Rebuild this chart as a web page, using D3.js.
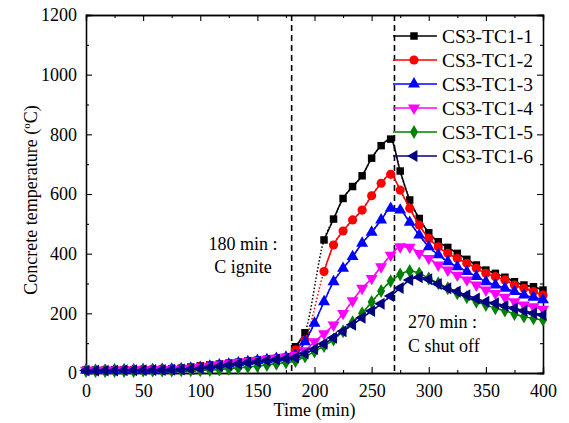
<!DOCTYPE html>
<html>
<head>
<meta charset="utf-8">
<script src="https://cdn.jsdelivr.net/npm/d3@7"></script>
<style>
  body { margin: 0; background: #fff; }
  svg text { font-family: "Liberation Serif", "DejaVu Serif", serif; fill: #000; }
</style>
</head>
<body>
<div id="chart-area"></div>
<script>
// sampling every 500 s
var times = [0, 8.33, 16.67, 25, 33.33, 41.67, 50, 58.33, 66.67, 75, 83.33,
    91.67, 100, 108.33, 116.67, 125, 133.33, 141.67, 150, 158.33, 166.67, 175,
    183.33, 191.67, 200, 208.33, 216.67, 225, 233.33, 241.67, 250, 258.33, 266.67,
    275, 283.33, 291.67, 300, 308.33, 316.67, 325, 333.33, 341.67, 350, 358.33,
    366.67, 375, 383.33, 391.67, 400];

var names = ["CS3-TC1-1", "CS3-TC1-2", "CS3-TC1-3", "CS3-TC1-4", "CS3-TC1-5", "CS3-TC1-6"];

var tc1 = [10,10,10,11,11,11,12,12,13,14,16, 20,24,27,30,33,36,40,43,46,49,53,
    88,135,null,446,516,585,625,661,720,762,784,677,580,518,470,440,421,401,381,362,345,334,321,306,295,289,278];
var tc2 = [10,9,10,10,11,11,11,12,13,14,15, 18,22,25,28,31,34,38,41,45,48,52,
    77,110,null,340,429,476,513,546,594,636,666,613,552,496,451,423,401,384,368,351,334,323,312,295,284,273,261];
var tc3 = [9,9,9,10,10,10,11,11,12,13,14, 16,19,23,27,30,34,38,42,45,49,53,
    60,105,167,239,306,351,390,435,472,513,552,546,505,462,423,396,373,356,340,323,306,295,284,273,261,254,245];
var tc4 = [9,9,9,10,10,10,11,11,12,12,13, 16,19,23,27,31,35,38,42,46,50,54,
    60,75,105,132,161,200,242,284,317,356,395,423,422,401,384,362,345,328,312,295,278,267,254,239,228,222,214];
var tc5 = [7,7,7,7,7,7,8,8,8,8,9, 9,9,10,12,14,17,20,23,27,31,35,
    40,55,72,90,112,140,170,200,238,275,308,330,342,334,317,301,284,267,254,239,228,217,209,198,189,183,178];
var tc6 = [8,8,8,8,9,9,9,10,10,11,12, 13,15,19,23,27,31,35,38,42,45,49,
    52,65,80,98,118,140,162,185,208,232,258,285,312,321,314,298,284,273,261,250,239,234,225,217,209,200,194];

var colors = ["#000000", "#ff0000", "#0000ff", "#ff00ff", "#008000", "#000080"];
var events = [180, 270];
var eventText = [["180 min :", "C ignite"], ["270 min :", "C shut off"]];

var width = 569, height = 423;
var margin = {top: 15, right: 26, bottom: 50, left: 86};
var w = width - margin.left - margin.right;
var h = height - margin.top - margin.bottom;
var serif = "'Liberation Serif', 'DejaVu Serif', serif";

var svg = d3.select("#chart-area").append("svg")
    .attr("width", width)
    .attr("height", height);

var g = svg.append("g")
    .attr("transform", "translate(" + margin.left + "," + margin.top + ")");

var x = d3.scaleLinear().domain([0, 400]).range([0, w]);
var y = d3.scaleLinear().domain([0, 1200]).range([h, 0]);

// axes, ticks inside
var xMajor = d3.range(0, 401, 50), xMinor = d3.range(25, 400, 50);
var yMajor = d3.range(0, 1201, 200), yMinor = d3.range(100, 1200, 200);

g.append("g").attr("transform", "translate(0," + h + ")")
    .call(d3.axisBottom(x).tickValues(xMajor).tickSize(-6).tickPadding(11).tickFormat(d3.format("d")));
g.append("g").attr("transform", "translate(0," + h + ")")
    .call(d3.axisBottom(x).tickValues(xMinor).tickSize(-3).tickFormat(""));
g.append("g")
    .call(d3.axisTop(x).tickValues(xMajor).tickSize(-6).tickFormat(""));
g.append("g")
    .call(d3.axisTop(x).tickValues(xMinor).tickSize(-3).tickFormat(""));

g.append("g")
    .call(d3.axisLeft(y).tickValues(yMajor).tickSize(-6).tickPadding(9).tickFormat(d3.format("d")));
g.append("g")
    .call(d3.axisLeft(y).tickValues(yMinor).tickSize(-3).tickFormat(""));
g.append("g").attr("transform", "translate(" + w + ",0)")
    .call(d3.axisRight(y).tickValues(yMajor).tickSize(-6).tickFormat(""));
g.append("g").attr("transform", "translate(" + w + ",0)")
    .call(d3.axisRight(y).tickValues(yMinor).tickSize(-3).tickFormat(""));

g.selectAll(".tick text").attr("font-size", 18).attr("font-family", serif).style("font-family", serif);
g.selectAll(".domain").attr("stroke", "#000").attr("stroke-width", 1.3);
g.selectAll(".tick line").attr("stroke", "#000").attr("stroke-width", 1.1);

// event lines
g.selectAll(".event").data(events).enter().append("line")
    .attr("x1", d => x(d)).attr("x2", d => x(d))
    .attr("y1", 0).attr("y2", h)
    .attr("stroke", "#000").attr("stroke-width", 1.6)
    .attr("stroke-dasharray", "6,4");

// series
var series = [tc1, tc2, tc3, tc4, tc5, tc6].map((vals, i) => ({
    name: names[i], color: colors[i],
    pts: vals.map((v, j) => ({t: times[j], v: v}))
}));

var symbols = [
    {type: d3.symbolSquare, size: 56, rot: 0},
    {type: d3.symbolCircle, size: 66, rot: 0},
    {type: d3.symbolTriangle, size: 62, rot: 0},
    {type: d3.symbolTriangle, size: 62, rot: 180},
    {type: d3.symbolDiamond, size: 56, rot: 0},
    {type: d3.symbolTriangle, size: 62, rot: -90}
];

var line = d3.line()
    .defined(d => d.v !== null)
    .x(d => x(d.t)).y(d => y(d.v))
    .curve(d3.curveMonotoneX);

series.forEach((s, i) => {
    var sg = g.append("g");
    // dotted bridge over missing readings
    sg.append("path")
        .attr("d", line(s.pts.filter(d => d.v !== null)))
        .attr("fill", "none").attr("stroke", s.color)
        .attr("stroke-width", 1.5).attr("stroke-dasharray", "1.5,2");
    sg.append("path")
        .attr("d", line(s.pts))
        .attr("fill", "none").attr("stroke", s.color).attr("stroke-width", 1.5);
    var sym = d3.symbol().type(symbols[i].type).size(symbols[i].size);
    sg.selectAll("path.m").data(s.pts.filter(d => d.v !== null)).enter().append("path")
        .attr("class", "m")
        .attr("d", sym)
        .attr("transform", d => "translate(" + x(d.t) + "," + y(d.v) + ") rotate(" + symbols[i].rot + ")")
        .attr("fill", s.color);
});

// legend
var legend = svg.append("g").attr("transform", "translate(393,36)");
series.forEach((s, i) => {
    var row = legend.append("g").attr("transform", "translate(0," + (i * 24) + ")");
    row.append("line").attr("x1", 0).attr("x2", 44).attr("y1", 0).attr("y2", 0)
        .attr("stroke", s.color).attr("stroke-width", 1.5);
    row.append("path")
        .attr("d", d3.symbol().type(symbols[i].type).size(symbols[i].size))
        .attr("transform", "translate(21,0) rotate(" + symbols[i].rot + ")")
        .attr("fill", s.color);
    row.append("text").attr("x", 49).attr("y", 7)
        .attr("font-size", 19.5).attr("font-family", serif).text(s.name);
});

// annotations
var ann = svg.append("g").attr("font-size", 18).attr("font-family", serif);
ann.append("text").attr("x", 243).attr("y", 250).attr("text-anchor", "middle").text(eventText[0][0]);
ann.append("text").attr("x", 243).attr("y", 273).attr("text-anchor", "middle").text(eventText[0][1]);
ann.append("text").attr("x", 408).attr("y", 328).text(eventText[1][0]);
ann.append("text").attr("x", 408).attr("y", 352).text(eventText[1][1]);

// axis titles
svg.append("text")
    .attr("x", margin.left + w / 2).attr("y", 416)
    .attr("text-anchor", "middle").attr("font-size", 18).attr("font-family", serif)
    .text("Time (min)");
var yt = svg.append("text")
    .attr("transform", "translate(37,200) rotate(-90)")
    .attr("text-anchor", "middle").attr("font-size", 18).attr("font-family", serif);
yt.append("tspan").text("Concrete temperature (");
yt.append("tspan").attr("font-size", 11).attr("dy", -7).text("o");
yt.append("tspan").attr("dy", 7).text("C)");
</script>
</body>
</html>
